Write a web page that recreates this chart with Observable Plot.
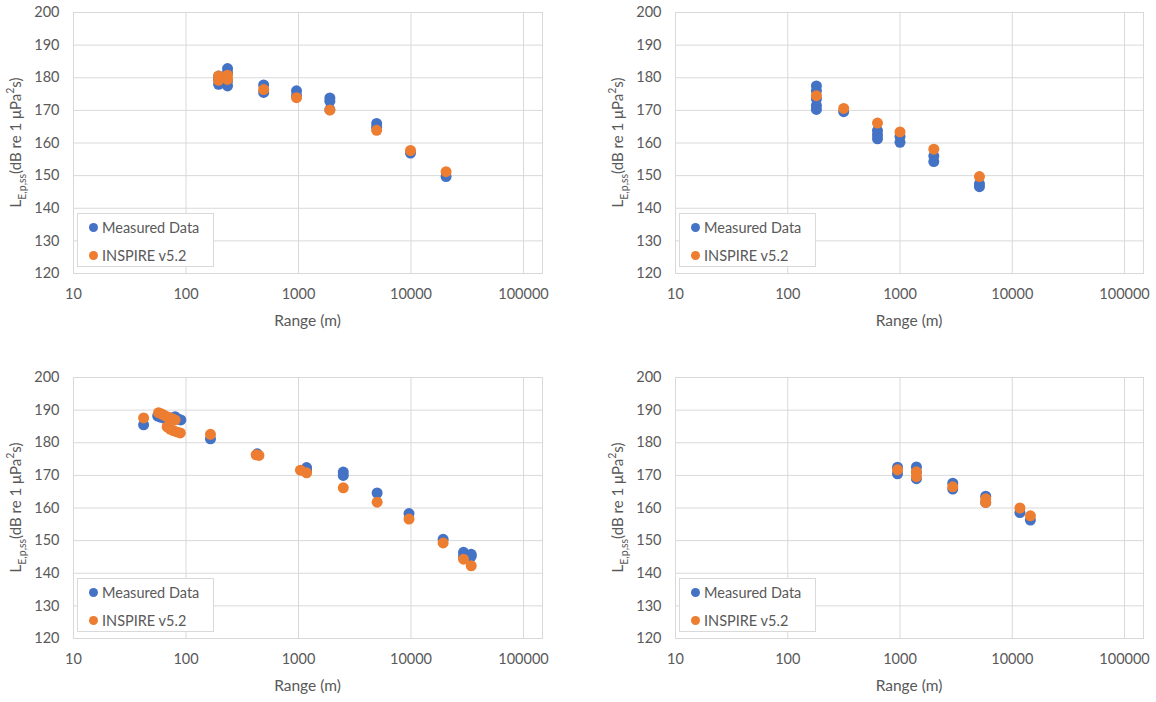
<!DOCTYPE html>
<html>
<head>
<meta charset="utf-8">
<script src="https://cdn.jsdelivr.net/npm/d3@7"></script>
<script src="https://cdn.jsdelivr.net/npm/@observablehq/plot@0.6"></script>
<style>
  html, body { margin: 0; padding: 0; background: #fff; }
  #root { position: relative; width: 1156px; height: 702px; background: #fff; font-family: Lato, "Open Sans", sans-serif; }
  .panel { position: absolute; }
  .panel svg { display: block; overflow: visible; }
  .legend { position: absolute; box-sizing: border-box; width: 137px; height: 54px; border: 1px solid #d9d9d9; background: #fff; }
  .legend .item { position: absolute; left: 11px; height: 16px; display: flex; align-items: center; font-size: 14.5px; color: #595959; white-space: nowrap; }
  .legend .sw { width: 9px; height: 9px; border-radius: 50%; margin-right: 4px; }
</style>
</head>
<body>
<div id="root"></div>
<script>
// ---------- data ----------
const X_TICKS = [10, 100, 1000, 10000, 100000];
const Y_TICKS = [120, 130, 140, 150, 160, 170, 180, 190, 200];
const SERIES = ["Measured Data", "INSPIRE v5.2"];
const COLORS = ["#4472C4", "#ED7D31"];

// Panel A (top left)
const rangeA_meas = [195, 195, 195, 234, 234, 234, 234, 490, 490, 960, 960, 1900, 1900, 1900, 4950, 4950, 9900, 20500];
const levelA_meas = [178.0, 179.5, 180.5, 182.8, 181.5, 179.0, 177.5, 177.8, 175.5, 176.0, 174.5, 173.8, 172.8, 170.2, 166.0, 164.8, 156.9, 149.7];
const rangeA_model = [195, 195, 234, 234, 490, 960, 1900, 4950, 9900, 20500];
const levelA_model = [180.5, 179.2, 180.8, 179.5, 176.4, 173.9, 170.1, 163.9, 157.7, 151.2];

// Panel B (top right)
const rangeB_meas = [180, 180, 180, 180, 180, 315, 630, 630, 630, 1000, 1000, 2000, 2000, 5100, 5100];
const levelB_meas = [177.5, 176.0, 173.5, 171.5, 170.3, 169.6, 163.8, 162.5, 161.3, 162.0, 160.2, 156.0, 154.3, 147.5, 146.6];
const rangeB_model = [180, 315, 630, 1000, 2000, 5100];
const levelB_model = [174.5, 170.6, 166.1, 163.4, 158.1, 149.7];

// Panel C (bottom left)
const rangeC_meas = [42, 56, 60, 65, 70, 75, 80, 85, 90, 165, 430, 1180, 1180, 2500, 2500, 5000, 9600, 19300, 29300, 29300, 34300, 34300];
const levelC_meas = [185.5, 188.2, 187.8, 187.4, 187.2, 187.6, 188.0, 187.3, 187.0, 181.2, 176.6, 172.4, 171.4, 171.0, 170.0, 164.6, 158.3, 150.4, 146.4, 145.3, 145.8, 145.2];
const rangeC_model = [42, 57, 61, 65, 70, 75, 80, 68, 72, 77, 83, 89, 165, 420, 445, 1040, 1180, 2500, 5000, 9600, 19300, 29300, 34300];
const levelC_model = [187.6, 189.2, 188.8, 188.3, 187.8, 187.4, 187.0, 184.9, 184.2, 183.7, 183.3, 183.0, 182.6, 176.3, 176.1, 171.6, 170.8, 166.2, 161.8, 156.6, 149.3, 144.3, 142.3];

// Panel D (bottom right)
const rangeD_meas = [950, 950, 1400, 1400, 1400, 2950, 2950, 5800, 5800, 11700, 14500];
const levelD_meas = [172.5, 170.5, 172.6, 171.0, 169.0, 167.6, 165.8, 163.6, 161.7, 158.6, 156.3];
const rangeD_model = [950, 1400, 1400, 2950, 5800, 5800, 11700, 14500];
const levelD_model = [171.7, 171.1, 169.6, 166.5, 162.8, 161.7, 160.0, 157.6];

// ---------- build ----------
function table(xs, ys, s) { return xs.map((x, i) => ({range: x, level: ys[i], series: s})); }

const panels = [
  {left: 0,   top: 0,   width: 578, height: 351, mr: 36, mb: 78, meas: table(rangeA_meas, levelA_meas, SERIES[0]), model: table(rangeA_model, levelA_model, SERIES[1])},
  {left: 602, top: 0,   width: 554, height: 351, mr: 13, mb: 78, meas: table(rangeB_meas, levelB_meas, SERIES[0]), model: table(rangeB_model, levelB_model, SERIES[1])},
  {left: 0,   top: 365, width: 578, height: 337, mr: 36, mb: 64, meas: table(rangeC_meas, levelC_meas, SERIES[0]), model: table(rangeC_model, levelC_model, SERIES[1])},
  {left: 602, top: 365, width: 554, height: 337, mr: 13, mb: 64, meas: table(rangeD_meas, levelD_meas, SERIES[0]), model: table(rangeD_model, levelD_model, SERIES[1])}
];

const ML = 73, MT = 12;
const X_MAX = Math.pow(10, 5 + 19 / 112.5);
const root = document.getElementById("root");

panels.forEach(p => {
  const div = document.createElement("div");
  div.className = "panel";
  div.style.left = p.left + "px";
  div.style.top = p.top + "px";
  div.style.width = p.width + "px";
  div.style.height = p.height + "px";

  const chart = Plot.plot({
    width: p.width,
    height: p.height,
    marginLeft: ML,
    marginRight: p.mr,
    marginTop: MT,
    marginBottom: p.mb,
    style: {fontFamily: "Lato, 'Open Sans', sans-serif", fontSize: "14px", color: "#595959", background: "transparent"},
    x: {type: "log", domain: [10, X_MAX]},
    y: {domain: [120, 200]},
    marks: [
      Plot.gridY(Y_TICKS, {stroke: "#d9d9d9", strokeOpacity: 1}),
      Plot.gridX(X_TICKS, {stroke: "#d9d9d9", strokeOpacity: 1}),
      Plot.frame({stroke: "#d9d9d9"}),
      Plot.axisX(X_TICKS, {tickSize: 0, tickPadding: 15, tickFormat: d => String(d), label: null, fontSize: 14.5}),
      Plot.axisY(Y_TICKS, {tickSize: 0, tickPadding: 14, label: null, fontSize: 14.5}),
      Plot.dot(p.meas, {x: "range", y: "level", r: 5.5, fill: COLORS[0], stroke: "none"}),
      Plot.dot(p.model, {x: "range", y: "level", r: 5.5, fill: COLORS[1], stroke: "none"})
    ]
  });

  const svg = d3.select(chart);
  const plotBottom = p.height - p.mb;
  const plotCenterX = (ML + p.width - p.mr) / 2;

  // x-axis title
  svg.append("text")
    .attr("x", plotCenterX)
    .attr("y", plotBottom + 49)
    .attr("text-anchor", "middle")
    .attr("dominant-baseline", "middle")
    .attr("fill", "#595959")
    .attr("font-size", 15.5)
    .text("Range (m)");

  // y-axis title with sub/superscripts
  const yt = svg.append("text")
    .attr("transform", `translate(17,${(MT + plotBottom) / 2}) rotate(-90)`)
    .attr("text-anchor", "middle")
    .attr("dominant-baseline", "middle")
    .attr("fill", "#595959")
    .attr("font-size", 15);
  yt.append("tspan").text("L");
  yt.append("tspan").attr("baseline-shift", "sub").attr("font-size", 10.5).text("E,p,ss");
  yt.append("tspan").text("(dB re 1 μPa");
  yt.append("tspan").attr("baseline-shift", "super").attr("font-size", 10.5).text("2");
  yt.append("tspan").text("s)");

  div.appendChild(chart);

  // legend (inside plot area, bottom-left)
  const lg = document.createElement("div");
  lg.className = "legend";
  lg.style.left = (ML + 4) + "px";
  lg.style.top = (plotBottom - 6 - 54) + "px";
  SERIES.forEach((s, i) => {
    const it = document.createElement("div");
    it.className = "item";
    it.style.top = (5 + i * 28) + "px";
    const sw = document.createElement("span");
    sw.className = "sw";
    sw.style.background = COLORS[i];
    it.appendChild(sw);
    it.appendChild(document.createTextNode(s));
    lg.appendChild(it);
  });
  div.appendChild(lg);

  root.appendChild(div);
});
</script>
</body>
</html>
